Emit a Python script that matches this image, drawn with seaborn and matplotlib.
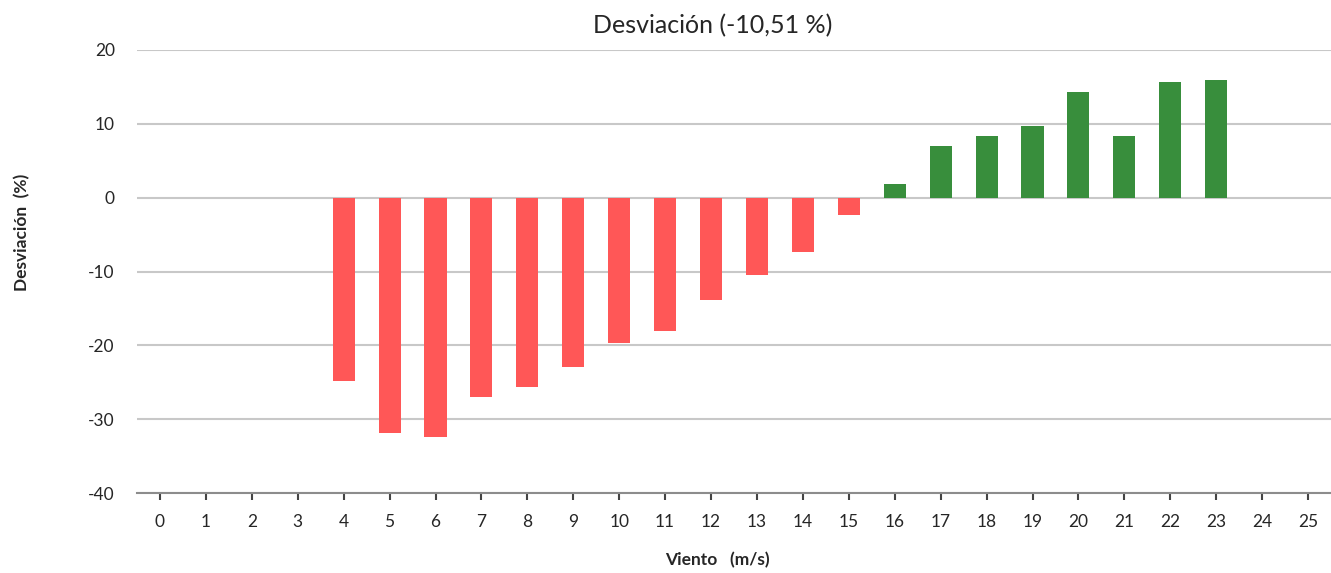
import matplotlib
matplotlib.use('Agg')
import matplotlib.pyplot as plt
import seaborn as sns
import numpy as np
import pandas as pd

# wind speed bins (m/s) and deviation (%) per bin
viento = list(range(0, 26))
desviacion = [np.nan, np.nan, np.nan, np.nan,
              -24.8, -31.9, -32.4, -27.0, -25.7, -23.0, -19.7, -18.1,
              -13.8, -10.5, -7.3, -2.4,
              1.9, 7.0, 8.4, 9.7, 14.3, 8.4, 15.7, 15.9,
              np.nan, np.nan]
titulo = 'Desviación (-10,51 %)'

df = pd.DataFrame({'Viento': viento, 'Desviacion': desviacion})
df['signo'] = np.where(df['Desviacion'] < 0, 'neg', 'pos')

sns.set_style('white')
plt.rcParams['font.family'] = ['Lato', 'DejaVu Sans']

fig = plt.figure(figsize=(13.31, 5.73), dpi=100)
ax = fig.add_axes([137 / 1331, 1 - 493 / 573, 1 - 137 / 1331, (493 - 50) / 573])

sns.barplot(data=df, x='Viento', y='Desviacion', hue='signo', order=viento,
            hue_order=['neg', 'pos'], palette={'neg': '#FF5757', 'pos': '#388E3C'},
            dodge=False, width=0.48, saturation=1, linewidth=0,
            legend=False, ax=ax, zorder=3)

ax.set_xlim(-0.5, 25.5)
ax.set_ylim(-40, 20)
ax.set_yticks(range(-40, 21, 10))
ax.set_yticklabels([str(v) for v in range(-40, 21, 10)], fontsize=12.5)
ax.set_xticklabels([str(v) for v in viento], fontsize=12.5)

ax.yaxis.grid(True, color='#C8C8C8', linewidth=1.5, zorder=0)
ax.set_axisbelow(True)
for s in ['top', 'right', 'left']:
    ax.spines[s].set_visible(False)
ax.spines['bottom'].set_color('#8C8C8C')
ax.spines['bottom'].set_linewidth(1.5)

ax.tick_params(axis='x', bottom=True, direction='out', length=5, width=1.5,
               color='#444444', pad=10)
ax.tick_params(axis='y', left=False, length=0, pad=16)

ax.set_title(titulo, fontsize=18, pad=12, x=0.482)
ax.set_xlabel('Viento   (m/s)', fontsize=12.5, fontweight='bold')
ax.set_ylabel('Desviación  (%)', fontsize=12.5, fontweight='bold')
ax.xaxis.set_label_coords(0.486, -0.133)
ax.yaxis.set_label_coords(-0.089, 0.589)

fig.savefig('out.png', dpi=100)
